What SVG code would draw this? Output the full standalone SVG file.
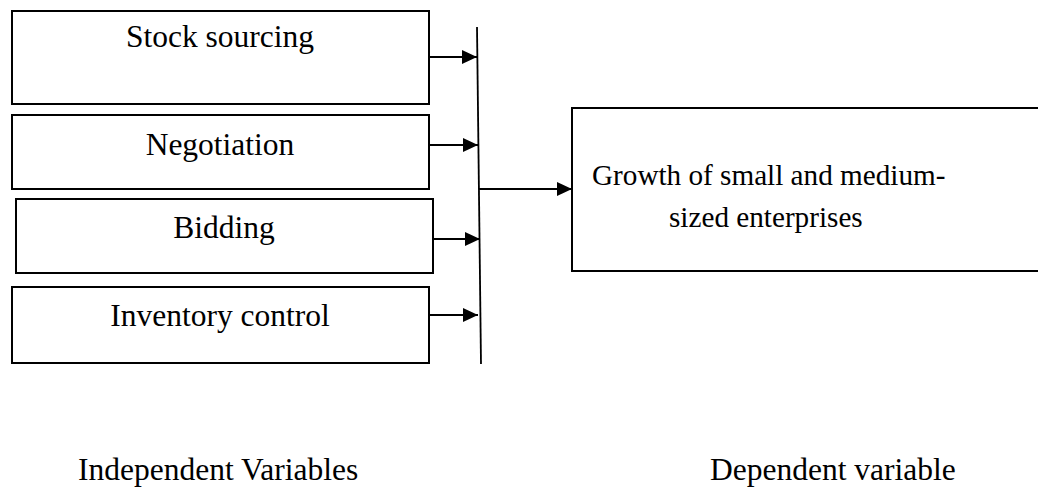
<svg xmlns="http://www.w3.org/2000/svg" width="1038" height="489" viewBox="0 0 1038 489">
<style>
.box{fill:#fff;stroke:#000;stroke-width:2}
.t{font-family:"Liberation Serif","Times New Roman",serif;font-size:31.5px;fill:#000}
.s{font-size:29.2px}
.c{stroke:#000;stroke-width:1.8;fill:none}
</style>
<defs>
<marker id="ah" markerUnits="userSpaceOnUse" markerWidth="16" markerHeight="16" viewBox="0 0 16 16" refX="15" refY="8" orient="auto">
<path d="M0,1 L15,8 L0,15 Z" fill="#000"/>
</marker>
</defs>
<rect width="1038" height="489" fill="#fff"/>
<g id="n1"><rect class="box" x="12" y="11" width="417" height="93"/><text class="t" x="220" y="47" text-anchor="middle">Stock sourcing</text></g>
<g id="n2"><rect class="box" x="12" y="115" width="417" height="74"/><text class="t" x="220" y="155" text-anchor="middle">Negotiation</text></g>
<g id="n3"><rect class="box" x="16" y="199" width="417" height="74"/><text class="t" x="224" y="238" text-anchor="middle">Bidding</text></g>
<g id="n4"><rect class="box" x="12" y="287" width="417" height="76"/><text class="t" x="220" y="326" text-anchor="middle">Inventory control</text></g>
<g id="n5"><rect class="box" x="572" y="108" width="480" height="163"/><text class="t s" x="592" y="185">Growth of small and medium-</text><text class="t s" x="669" y="227">sized enterprises</text></g>
<g id="labels"><text class="t" x="78" y="480">Independent Variables</text><text class="t" x="710" y="480">Dependent variable</text></g>
<g id="connectors">
<line class="c" x1="477" y1="27" x2="481" y2="364"/>
<line class="c" x1="429" y1="57" x2="477" y2="57" marker-end="url(#ah)"/>
<line class="c" x1="429" y1="145" x2="478" y2="145" marker-end="url(#ah)"/>
<line class="c" x1="433" y1="239" x2="480" y2="239" marker-end="url(#ah)"/>
<line class="c" x1="429" y1="315" x2="478" y2="315" marker-end="url(#ah)"/>
<line class="c" x1="479" y1="189" x2="572" y2="189" marker-end="url(#ah)"/>
</g>
</svg>
